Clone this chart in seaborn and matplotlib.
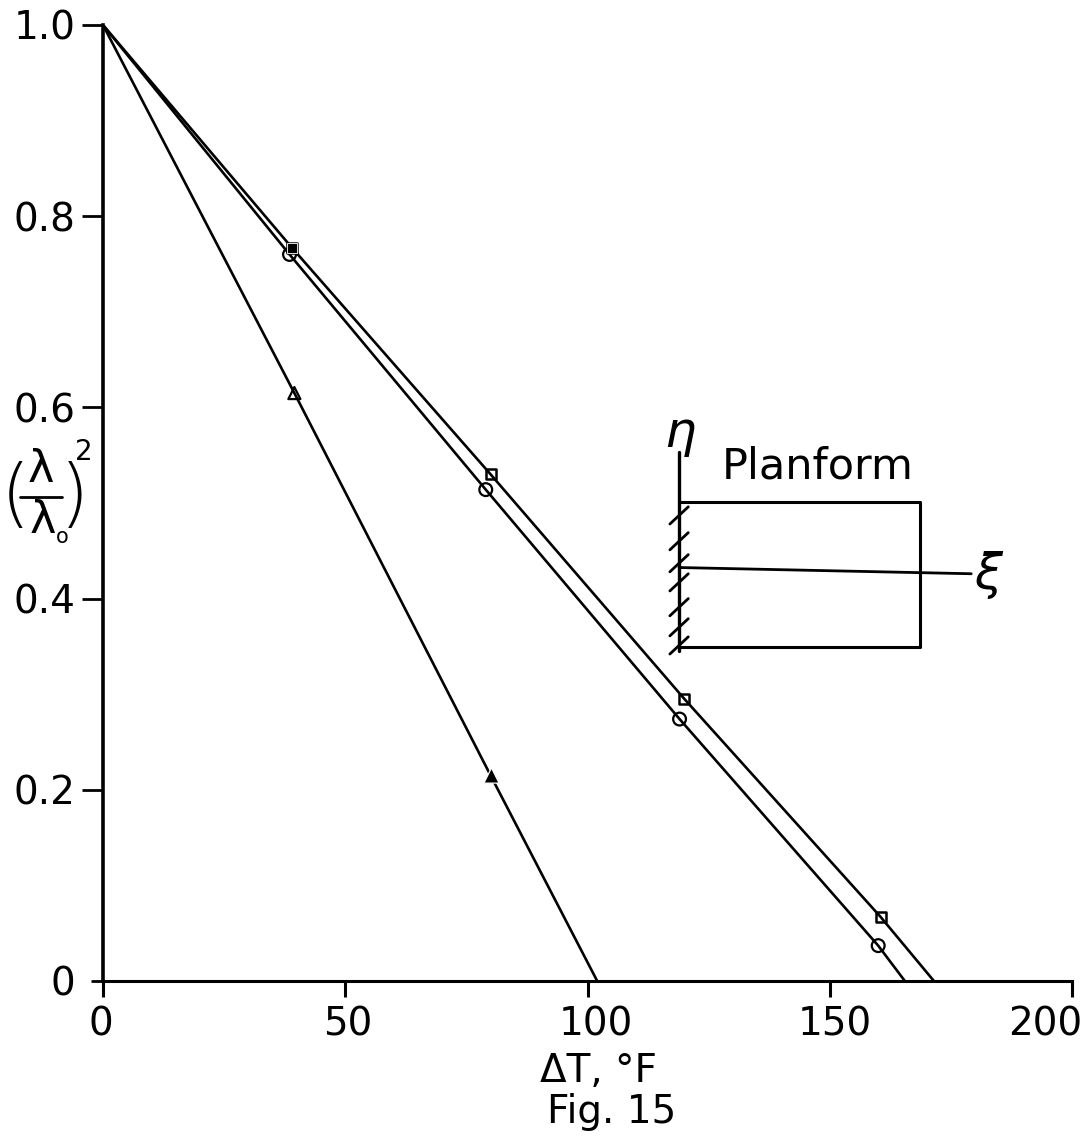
import matplotlib
matplotlib.use('Agg')
import matplotlib.pyplot as plt
from matplotlib.lines import Line2D
from matplotlib.transforms import ScaledTranslation
import pandas as pd
import seaborn as sns

circle_x = [0, 38.5, 79, 119, 160, 165.5]
circle_y = [1.0, 0.76, 0.514, 0.274, 0.037, 0]
square_x = [0, 39, 80, 120, 160.5, 171.5]
square_y = [1.0, 0.767, 0.53, 0.295, 0.067, 0]
triangle_x = [0, 39.5, 80, 102]
triangle_y = [1.0, 0.615, 0.215, 0]

xticks = [0, 50, 100, 150, 200]
yticks = [0, 0.2, 0.4, 0.6, 0.8, 1.0]
ytick_labels = ['0', '0.2', '0.4', '0.6', '0.8', '1.0']
xlabel_shift = [-2, 3, 8, 5, -27]

# planform sketch, in data units
plan_x = [118.9, 168.6, 168.6, 118.9]
plan_y = [0.501, 0.501, 0.349, 0.349]
eta_x = [118.9, 118.9]
eta_y = [0.553, 0.345]
xi_x = [118.9, 179.2]
xi_y = [0.4325, 0.426]
hatch_y = [0.487, 0.460, 0.437, 0.417, 0.391, 0.370, 0.351]

sns.set_theme(style='white')
plt.rcParams['font.family'] = ['DejaVu Sans']

W, H = 1088, 1139
fig = plt.figure(figsize=(W / 100, H / 100), dpi=100)
ax = fig.add_axes([103 / W, 1 - 981 / H, 969 / W, 956 / H])


def px(x, y):
    return x / W, 1 - y / H


series = pd.DataFrame({
    'x': circle_x + square_x + triangle_x,
    'y': circle_y + square_y + triangle_y,
    'kind': ['circle'] * len(circle_x) + ['square'] * len(square_x) + ['triangle'] * len(triangle_x),
})
sns.lineplot(data=series, x='x', y='y', hue='kind',
             palette={'circle': 'black', 'square': 'black', 'triangle': 'black'},
             sort=False, estimator=None, legend=False, lw=1.9, ax=ax)

# markers only on the read points, not the ends of the lines
sns.scatterplot(x=circle_x[1:-1], y=circle_y[1:-1], marker='o', s=85, facecolor='none',
                edgecolor='black', linewidth=1.6, ax=ax, zorder=3)
sns.scatterplot(x=square_x[1:-1], y=square_y[1:-1], marker='s', s=50, facecolor='none',
                edgecolor='black', linewidth=1.8, ax=ax, zorder=3)
sns.scatterplot(x=square_x[1:2], y=square_y[1:2], marker='s', s=60, color='black', ax=ax, zorder=3)
sns.scatterplot(x=triangle_x[1:2], y=triangle_y[1:2], marker='^', s=75, facecolor='none',
                edgecolor='black', linewidth=1.6, ax=ax, zorder=3)
sns.scatterplot(x=triangle_x[2:3], y=triangle_y[2:3], marker='^', s=120, color='black', ax=ax, zorder=3)

ax.plot(plan_x, plan_y, color='black', lw=2.2)
ax.plot(eta_x, eta_y, color='black', lw=2.4)
ax.plot(xi_x, xi_y, color='black', lw=2)
for h in hatch_y:
    ax.plot([117.0, 120.8], [h - 0.009, h + 0.009], color='black', lw=2)

ax.set_xlim(0, 200)
ax.set_ylim(0, 1.0)
ax.set_xticks(xticks)
ax.set_yticks(yticks)
ax.set_yticklabels(ytick_labels)
ax.set_xlabel('')
ax.set_ylabel('')
ax.tick_params(axis='x', bottom=True, length=11.5, width=2.2, labelsize=28, pad=6, color='black', labelcolor='black')
ax.tick_params(axis='y', left=True, length=15, width=2, labelsize=28, pad=5, color='black', labelcolor='black')
for tick, dx in zip(ax.xaxis.get_major_ticks(), xlabel_shift):
    tick.label1.set_transform(tick.label1.get_transform() + ScaledTranslation(dx / 100, 0, fig.dpi_scale_trans))
ax.yaxis.get_major_ticks()[0].tick1line.set_markersize(9)

ax.spines['top'].set_visible(False)
ax.spines['right'].set_visible(False)
ax.spines['left'].set_linewidth(2.6)
ax.spines['bottom'].set_linewidth(2.2)
ax.spines['left'].set_color('black')
ax.spines['bottom'].set_color('black')

fig.text(*px(598, 1071), '\u0394T, \u00b0F', fontsize=28, ha='center', va='center', color='black')
fig.text(*px(612, 1112), 'Fig. 15', fontsize=28, ha='center', va='center', color='black')
fig.text(*px(818, 466), 'Planform', fontsize=31, ha='center', va='center', color='black')
fig.text(*px(680, 433), '\u03b7', fontsize=36, fontstyle='italic', ha='center', va='center', color='black')
fig.text(*px(988, 575), '\u03be', fontsize=36, fontstyle='italic', ha='center', va='center', color='black')

# (lambda / lambda_o)^2 built up piece by piece
fig.text(*px(41, 470), '\u03bb', fontsize=32, ha='center', va='center', color='black')
fig.text(*px(43, 521), '\u03bb', fontsize=32, ha='center', va='center', color='black')
fig.text(*px(62, 537), 'o', fontsize=15, ha='center', va='center', color='black')
fig.text(*px(15, 497), '(', fontsize=54, fontweight='light', ha='center', va='center', color='black')
fig.text(*px(74, 497), ')', fontsize=54, fontweight='light', ha='center', va='center', color='black')
fig.text(*px(84, 452), '2', fontsize=20, ha='center', va='center', color='black')
bar_start = px(20, 497)
bar_end = px(62, 497)
fig.add_artist(Line2D([bar_start[0], bar_end[0]], [bar_start[1], bar_end[1]], color='black', lw=2))

fig.savefig('out.png', dpi=100, facecolor='white')
